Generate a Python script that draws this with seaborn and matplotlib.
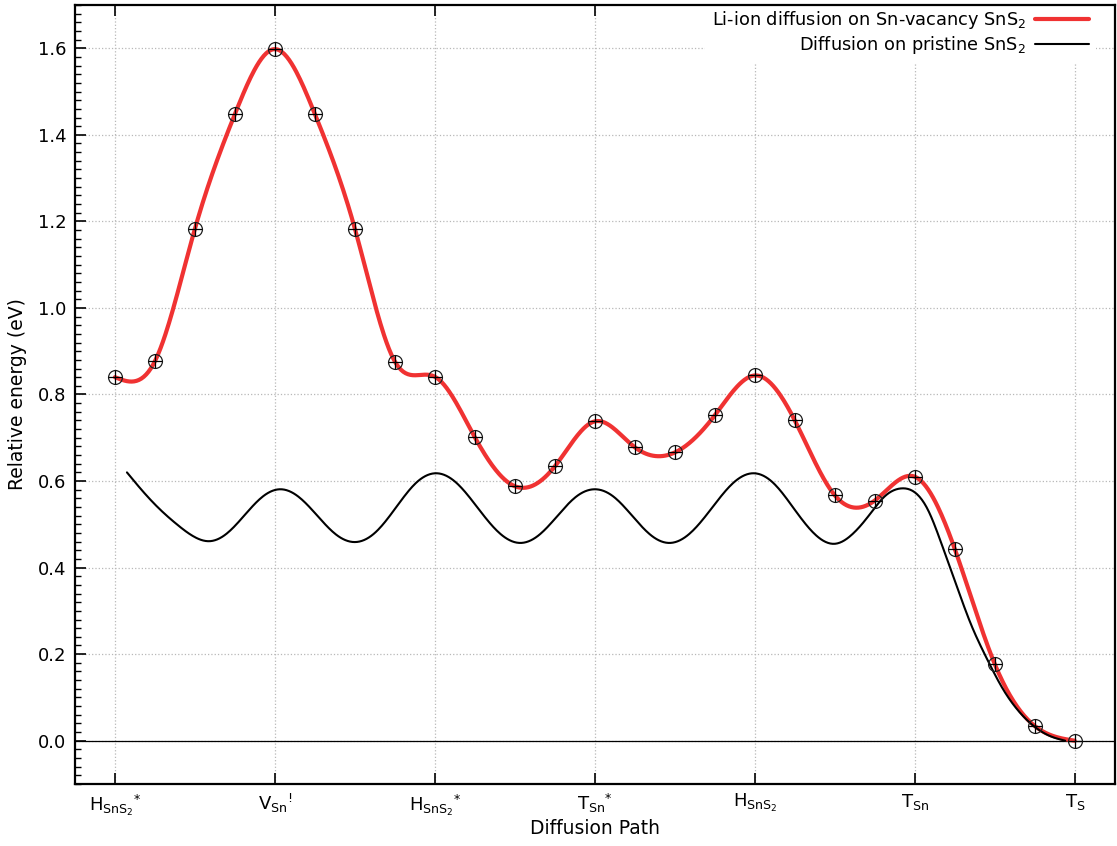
import numpy as np
import pandas as pd
import seaborn as sns
import matplotlib
matplotlib.use('Agg')
import matplotlib.pyplot as plt
from matplotlib.ticker import MultipleLocator

# Image points along the path (Sn-vacancy SnS2)
red_x = [0.0, 0.25, 0.5, 0.75, 1.0, 1.25, 1.5, 1.75, 2.0, 2.25, 2.5, 2.75, 3.0,
         3.25, 3.5, 3.75, 4.0, 4.25, 4.5, 4.75, 5.0, 5.25, 5.5, 5.75, 6.0]
red_y = [0.84, 0.877, 1.183, 1.448, 1.598, 1.448, 1.183, 0.876, 0.841, 0.701,
         0.588, 0.634, 0.738, 0.678, 0.666, 0.752, 0.844, 0.740, 0.567, 0.555,
         0.610, 0.443, 0.177, 0.034, 0.0]

# Pristine SnS2 curve
black_x = [0.075, 0.175, 0.28, 0.387, 0.487, 0.59, 0.70, 0.81, 0.92, 1.03, 1.15,
           1.265, 1.38, 1.50, 1.63, 1.755, 1.88, 2.01, 2.14, 2.27, 2.40, 2.53,
           2.65, 2.765, 2.88, 3.00, 3.12, 3.235, 3.35, 3.47, 3.60, 3.73, 3.86,
           3.99, 4.12, 4.245, 4.37, 4.50, 4.60, 4.71, 4.81, 4.915, 5.08, 5.17,
           5.25, 5.35, 5.45, 5.55, 5.65, 5.75, 5.85, 5.94]
black_y = [0.620, 0.576, 0.535, 0.500, 0.473, 0.461, 0.479, 0.521, 0.563, 0.581,
           0.563, 0.520, 0.477, 0.459, 0.482, 0.538, 0.595, 0.618, 0.594, 0.537,
           0.481, 0.457, 0.475, 0.519, 0.563, 0.581, 0.563, 0.519, 0.475, 0.457,
           0.481, 0.537, 0.594, 0.618, 0.594, 0.536, 0.479, 0.455, 0.474, 0.519,
           0.564, 0.583, 0.535, 0.452, 0.370, 0.270, 0.190, 0.120, 0.068, 0.032,
           0.010, 0.0]

tick_pos = [0, 1, 2, 3, 4, 5, 6]
tick_labels = [r'$\mathrm{H}_{\mathrm{SnS}_2}{}^{*}$', r'$\mathrm{V}_{\mathrm{Sn}}{}^{!}$',
               r'$\mathrm{H}_{\mathrm{SnS}_2}{}^{*}$', r'$\mathrm{T}_{\mathrm{Sn}}{}^{*}$',
               r'$\mathrm{H}_{\mathrm{SnS}_2}$', r'$\mathrm{T}_{\mathrm{Sn}}$',
               r'$\mathrm{T}_{\mathrm{S}}$']
y_ticks = [0.0, 0.2, 0.4, 0.6, 0.8, 1.0, 1.2, 1.4, 1.6]


def csplines(x, y, n=800):
    # natural cubic spline, like gnuplot "smooth csplines"
    x = np.asarray(x, float)
    y = np.asarray(y, float)
    k = len(x)
    h = np.diff(x)
    A = np.zeros((k, k))
    b = np.zeros(k)
    A[0, 0] = A[-1, -1] = 1
    for i in range(1, k - 1):
        A[i, i - 1] = h[i - 1]
        A[i, i] = 2 * (h[i - 1] + h[i])
        A[i, i + 1] = h[i]
        b[i] = 6 * ((y[i + 1] - y[i]) / h[i] - (y[i] - y[i - 1]) / h[i - 1])
    m = np.linalg.solve(A, b)
    xs = np.linspace(x[0], x[-1], n)
    j = np.clip(np.searchsorted(x, xs) - 1, 0, k - 2)
    t0 = xs - x[j]
    t1 = x[j + 1] - xs
    hj = h[j]
    ys = (m[j] * t1**3 + m[j + 1] * t0**3) / (6 * hj) \
        + (y[j] / hj - m[j] * hj / 6) * t1 + (y[j + 1] / hj - m[j + 1] * hj / 6) * t0
    return xs, ys


sns.set_style('white')
plt.rcParams['font.family'] = ['DejaVu Sans']
plt.rcParams['mathtext.fontset'] = 'dejavusans'
plt.rcParams['mathtext.default'] = 'regular'
plt.rcParams['text.color'] = 'black'
plt.rcParams['axes.labelcolor'] = 'black'
plt.rcParams['xtick.color'] = 'black'
plt.rcParams['ytick.color'] = 'black'

fig = plt.figure(figsize=(11.17, 8.46), dpi=100)
ax = fig.add_axes([0.0671, 0.0733, 0.9309, 0.9208])

rx, ry = csplines(red_x, red_y)
bx, by = csplines(black_x, black_y)
red_df = pd.DataFrame({'x': rx, 'y': ry})
black_df = pd.DataFrame({'x': bx, 'y': by})

ax.axhline(0, color='black', lw=0.9, zorder=2)
sns.lineplot(data=red_df, x='x', y='y', color='#f03232', lw=3.0, sort=False,
             label=r'Li-ion diffusion on Sn-vacancy SnS$_2$', ax=ax, zorder=3)
sns.lineplot(data=black_df, x='x', y='y', color='black', lw=1.5, sort=False,
             label=r'Diffusion on pristine SnS$_2$', ax=ax, zorder=3)
ax.plot(red_x, red_y, 'o', ms=10, mfc='none', mec='#222222', mew=0.9, zorder=4)
ax.plot(red_x, red_y, '+', ms=10, color='black', mew=0.9, zorder=4)

ax.set_xlim(-0.25, 6.25)
ax.set_ylim(-0.1, 1.7)
ax.set_xticks(tick_pos)
ax.set_xticklabels(tick_labels, fontsize=13)
ax.set_yticks(y_ticks)
ax.set_yticklabels(['%.1f' % v for v in y_ticks], fontsize=13)
ax.yaxis.set_minor_locator(MultipleLocator(0.02))

ax.tick_params(axis='x', which='major', direction='in', length=8, width=1.2,
               top=True, bottom=True, pad=6)
ax.tick_params(axis='y', which='major', direction='in', length=8, width=1.2,
               left=True, right=False, pad=6)
ax.tick_params(axis='y', which='minor', direction='in', length=4, width=1.0,
               left=True, right=False)
ax.grid(True, which='major', color='#b8b8b8', linestyle=':', lw=0.9)
ax.set_axisbelow(True)
for s in ax.spines.values():
    s.set_color('black')
    s.set_linewidth(1.6)
    s.set_zorder(6)

ax.set_xlabel('Diffusion Path', fontsize=13.5, labelpad=1)
ax.set_ylabel('Relative energy (eV)', fontsize=13.5, labelpad=8)

leg = ax.legend(loc='upper right', bbox_to_anchor=(0.985, 1.008), frameon=True,
                fontsize=12.8, markerfirst=False, handlelength=3.0, handletextpad=0.5,
                borderaxespad=0.2, labelspacing=0.15, fancybox=False)
leg.get_frame().set_facecolor('white')
leg.get_frame().set_edgecolor('none')
leg.get_frame().set_alpha(1)
for t in leg.get_texts():
    t.set_ha('right')

fig.savefig('out.png', dpi=100)
